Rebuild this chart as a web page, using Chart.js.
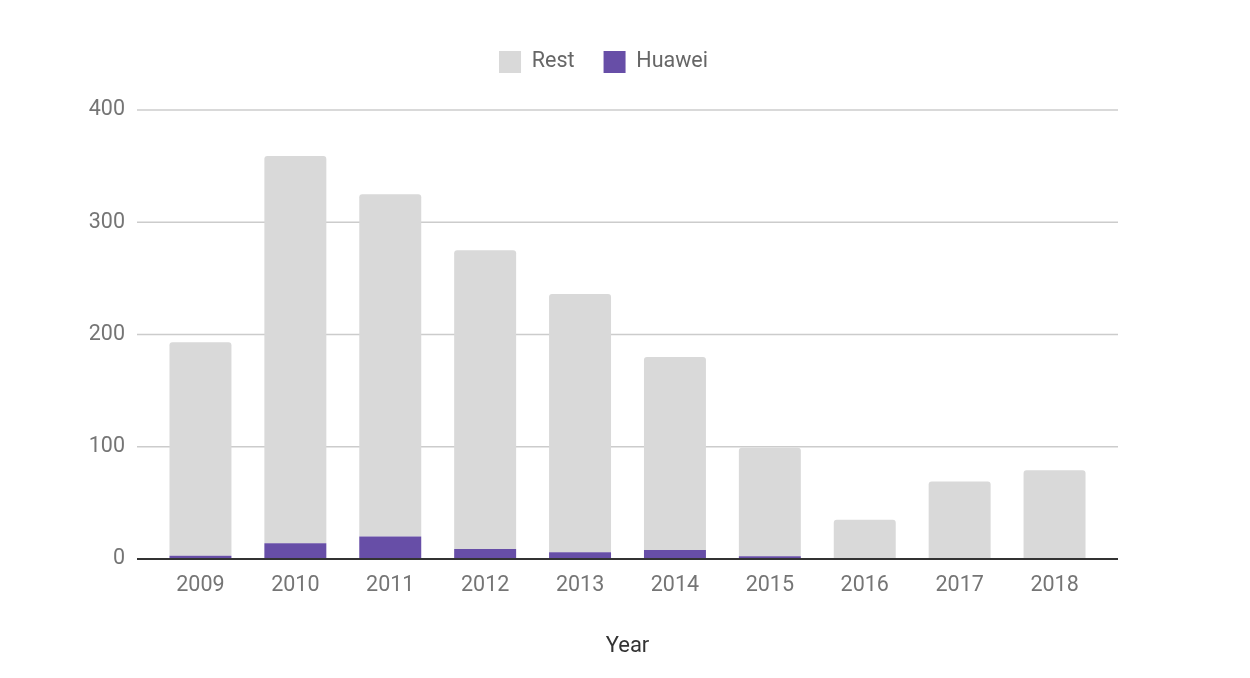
<!DOCTYPE html>
<html><head><meta charset="utf-8">
<script src="https://cdn.jsdelivr.net/npm/chart.js@4/dist/chart.umd.min.js"></script>
<style>html,body{margin:0;padding:0;background:#fff;}canvas{display:block;}</style>
</head><body>
<canvas id="c" width="1250" height="678"></canvas>
<script>
const years = ['2009','2010','2011','2012','2013','2014','2015','2016','2017','2018'];
const huawei = [3, 14, 20, 9, 6, 8, 2.5, 0, 0, 0];
const rest = [190, 345, 305, 266, 230, 172, 96.5, 35, 69, 79];
const yTicks = [0, 100, 200, 300, 400];

const gridOverhang = 16;
const legendBlock = 88;
const legendShift = 52.5;

const wideGrid = {
  id: 'wideGrid',
  afterLayout(chart) {
    const l = chart.legend;
    if (l) { l.left += legendShift; l.right += legendShift; }
  },
  beforeDatasetsDraw(chart) {
    const { ctx, chartArea, scales: { y } } = chart;
    ctx.save();
    ctx.strokeStyle = '#cccccc';
    ctx.lineWidth = 1.5;
    y.ticks.forEach(t => {
      if (t.value === 0) return;
      const py = y.getPixelForValue(t.value);
      ctx.beginPath();
      ctx.moveTo(chartArea.left - gridOverhang, py);
      ctx.lineTo(chartArea.right + gridOverhang, py);
      ctx.stroke();
    });
    ctx.restore();
  },
  afterDatasetsDraw(chart) {
    const { ctx, chartArea, scales: { y } } = chart;
    const py = y.getPixelForValue(0);
    ctx.save();
    ctx.strokeStyle = '#333333';
    ctx.lineWidth = 2;
    ctx.beginPath();
    ctx.moveTo(chartArea.left - gridOverhang, py);
    ctx.lineTo(chartArea.right + gridOverhang, py);
    ctx.stroke();
    ctx.restore();
  }
};

Chart.defaults.font.family = 'Roboto';
const chart = new Chart(document.getElementById('c'), {
  type: 'bar',
  data: {
    labels: years,
    datasets: [
      { label: 'Huawei', data: huawei, backgroundColor: '#674ea7', borderWidth: 0, barPercentage: 0.653, categoryPercentage: 1 },
      { label: 'Rest', data: rest, backgroundColor: '#d9d9d9', borderWidth: 0, borderRadius: {topLeft: 3, topRight: 3}, borderSkipped: false, barPercentage: 0.653, categoryPercentage: 1 }
    ]
  },
  options: {
    responsive: false,
    animation: false,
    layout: { padding: { left: 0, right: 148, top: 22, bottom: 0 } },
    plugins: {
      legend: {
        reverse: true,
        labels: { boxWidth: 22, boxHeight: 22, padding: 29, color: '#666', font: { size: 21.5 } }
      },
      tooltip: { enabled: false }
    },
    scales: {
      x: {
        stacked: true,
        grid: { display: false, drawTicks: false },
        border: { display: false },
        ticks: { color: '#757575', font: { size: 21.5 }, padding: 14 },
        title: { display: true, text: 'Year', color: '#333', font: { size: 22 }, padding: { top: 4, bottom: 18 } },
        afterFit: (s) => { s.height = 119; }
      },
      y: {
        stacked: true,
        min: 0, max: 400,
        afterBuildTicks: (s) => { s.ticks = yTicks.map(v => ({ value: v })); },
        grid: { display: false, drawTicks: false },
        border: { display: false },
        ticks: { color: '#757575', font: { size: 21.5 }, padding: 28 },
        afterFit: (s) => { s.width = 153; }
      }
    }
  },
  plugins: [wideGrid]
});
const lg = chart.legend;
const fit0 = lg.fit.bind(lg);
lg.fit = function () { fit0(); this.height = legendBlock; };
chart.update();
</script>
</body></html>
